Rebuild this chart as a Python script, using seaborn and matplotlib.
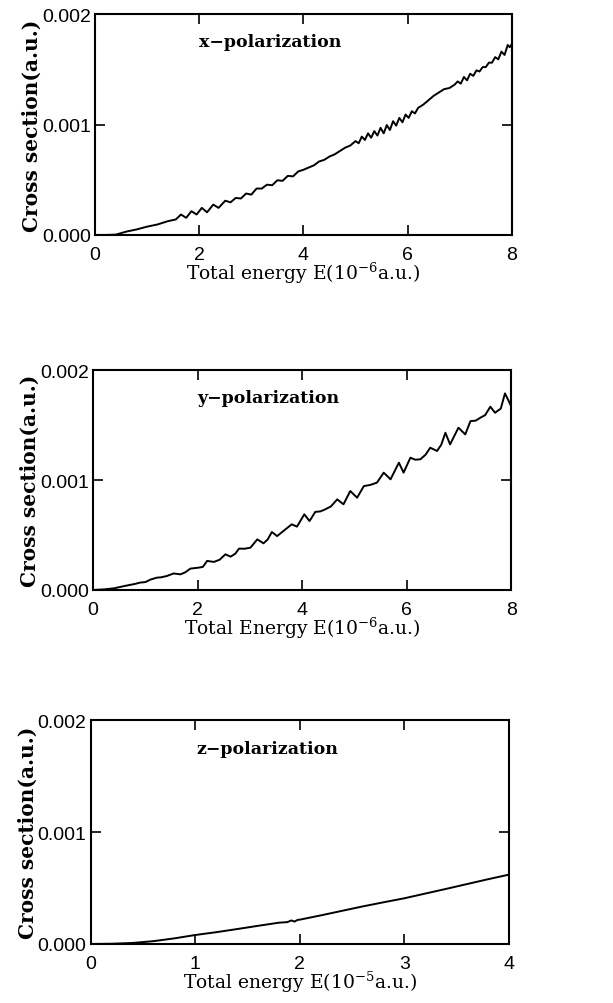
import numpy as np
import pandas as pd
import matplotlib
matplotlib.use("Agg")
import matplotlib.pyplot as plt
import seaborn as sns

# ---------------- data (cross sections in units of 1e-4 a.u.) ----------------
E_x = [0.0, 0.2, 0.4, 0.6, 0.8, 1.0, 1.2, 1.4,
       1.55, 1.65, 1.75, 1.85, 1.95, 2.05, 2.15, 2.27, 2.37,
       2.5, 2.6, 2.7, 2.8, 2.9, 3.0, 3.1, 3.2, 3.3, 3.4, 3.5, 3.6, 3.7, 3.8, 3.9,
       4.0, 4.1, 4.2, 4.3, 4.4, 4.5, 4.6, 4.7, 4.8, 4.9,
       5.0, 5.06, 5.12, 5.18, 5.24, 5.30, 5.36, 5.42, 5.48, 5.54, 5.60, 5.66,
       5.72, 5.78, 5.84, 5.90, 5.96, 6.02, 6.08, 6.14,
       6.2, 6.3, 6.4, 6.5, 6.6, 6.7, 6.8, 6.9,
       6.96, 7.02, 7.08, 7.14, 7.20, 7.26, 7.32, 7.38, 7.44, 7.50, 7.56, 7.62,
       7.68, 7.74, 7.80, 7.86, 7.92, 7.96, 8.0]
S_x = [0.0, 0.0, 0.03, 0.3, 0.5, 0.75, 0.95, 1.25,
       1.4, 1.85, 1.55, 2.15, 1.85, 2.45, 2.05, 2.75, 2.45,
       3.1, 2.95, 3.35, 3.3, 3.75, 3.65, 4.2, 4.2, 4.55, 4.5, 4.95, 4.9, 5.35, 5.3, 5.75,
       5.9, 6.1, 6.3, 6.65, 6.8, 7.1, 7.3, 7.6, 7.9, 8.1,
       8.5, 8.3, 8.9, 8.6, 9.2, 8.8, 9.4, 9.0, 9.7, 9.2, 9.95, 9.5,
       10.3, 9.9, 10.6, 10.2, 10.9, 10.6, 11.2, 11.0,
       11.5, 11.8, 12.2, 12.6, 12.9, 13.2, 13.3, 13.6,
       13.9, 13.7, 14.3, 14.0, 14.6, 14.4, 14.9, 14.8, 15.2, 15.2, 15.6, 15.6,
       16.1, 15.9, 16.6, 16.3, 17.2, 17.0, 17.3]

E_y = [0.0, 0.2, 0.4, 0.6, 0.8, 0.9, 1.0, 1.1, 1.22, 1.3, 1.41, 1.54, 1.67, 1.76, 1.86,
       2.02, 2.1, 2.18, 2.31, 2.42, 2.53, 2.63, 2.72, 2.79, 2.9, 3.01, 3.14, 3.26, 3.34,
       3.42, 3.52, 3.65, 3.80, 3.90, 4.04, 4.14, 4.25, 4.35, 4.44, 4.55, 4.67, 4.79, 4.92,
       5.05, 5.18, 5.3, 5.43, 5.56, 5.69, 5.85, 5.94, 6.07, 6.16, 6.26, 6.36, 6.45, 6.58,
       6.66, 6.74, 6.83, 6.92, 6.99, 7.12, 7.22, 7.32, 7.41, 7.50, 7.60, 7.69, 7.80, 7.88,
       7.95, 8.0]
S_y = [0.0, 0.05, 0.15, 0.36, 0.55, 0.67, 0.72, 0.95, 1.12, 1.15, 1.27, 1.5, 1.42, 1.6, 1.94,
       2.03, 2.1, 2.64, 2.55, 2.75, 3.24, 3.03, 3.3, 3.76, 3.75, 3.85, 4.6, 4.24, 4.6,
       5.27, 4.9, 5.4, 5.97, 5.76, 6.88, 6.27, 7.1, 7.15, 7.33, 7.6, 8.24, 7.79, 9.0,
       8.39, 9.45, 9.55, 9.76, 10.67, 10.06, 11.58, 10.67, 12.03, 11.85, 11.88, 12.3, 12.94, 12.64,
       13.2, 14.3, 13.24, 14.1, 14.76, 14.15, 15.36, 15.4, 15.67, 15.9, 16.67, 16.12, 16.5, 17.88,
       17.2, 16.67]

E_z = [0.0, 0.2, 0.4, 0.6, 0.8, 1.0, 1.2, 1.4, 1.6, 1.8, 1.88, 1.92, 1.95, 1.98, 2.0,
       2.2, 2.4, 2.6, 2.8, 3.0, 3.2, 3.4, 3.6, 3.8, 4.0]
S_z = [0.0, 0.02, 0.09, 0.25, 0.5, 0.8, 1.05, 1.33, 1.62, 1.9, 1.95, 2.1, 2.0, 2.15, 2.17,
       2.55, 2.95, 3.35, 3.72, 4.08, 4.5, 4.92, 5.35, 5.78, 6.19]

panel_labels = ["x\u2212polarization", "y\u2212polarization", "z\u2212polarization"]
x_labels = ["Total energy E(10$^{-6}$a.u.)",
            "Total Energy E(10$^{-6}$a.u.)",
            "Total energy E(10$^{-5}$a.u.)"]
y_label = "Cross section(a.u.)"
x_ticks = [[0, 2, 4, 6, 8], [0, 2, 4, 6, 8], [0, 1, 2, 3, 4]]
x_max = [8, 8, 4]
y_ticks = [0.000, 0.001, 0.002]
y_ticklabels = ["0.000", "0.001", "0.002"]
text_x = [2.0, 2.0, 1.01]

# ---------------- style ----------------
sns.set_theme(style="ticks")
plt.rcParams["font.family"] = ["Liberation Sans", "DejaVu Sans"]
plt.rcParams["mathtext.fontset"] = "dejavuserif"
plt.rcParams["text.color"] = "black"
plt.rcParams["axes.labelcolor"] = "black"

fig = plt.figure(figsize=(6.13, 10.04), dpi=100)
rects = [[0.155, 0.765, 0.680, 0.220],
         [0.152, 0.4114, 0.682, 0.219],
         [0.148, 0.0588, 0.682, 0.223]]

series = [(E_x, S_x), (E_y, S_y), (E_z, S_z)]

for i, (E, S) in enumerate(series):
    ax = fig.add_axes(rects[i])
    df = pd.DataFrame({"E": E, "sigma": np.array(S) * 1e-4})
    sns.lineplot(data=df, x="E", y="sigma", ax=ax, color="black",
                 linewidth=1.4, estimator=None, sort=False)
    ax.set_xlim(0, x_max[i])
    ax.set_ylim(0, 0.002)
    ax.set_xticks(x_ticks[i])
    ax.set_xticklabels([str(t) for t in x_ticks[i]])
    ax.set_yticks(y_ticks)
    ax.set_yticklabels(y_ticklabels)
    ax.tick_params(direction="in", length=7, width=1.2, top=True, right=True,
                   labelsize=14, colors="black", pad=3)
    ax.tick_params(axis="x", pad=8)
    for sp in ax.spines.values():
        sp.set_linewidth(1.5)
        sp.set_color("black")
    ax.set_xlabel(x_labels[i], family="DejaVu Serif", fontsize=13.5,
                  labelpad=-2, color="black")
    ax.set_ylabel(y_label, family="DejaVu Serif", fontweight="bold",
                  fontsize=14.5, labelpad=0, color="black")
    ax.text(text_x[i], 0.00175, panel_labels[i], family="DejaVu Serif",
            fontweight="bold", fontsize=12.5, ha="left", va="center", color="black")

fig.savefig("out.png", dpi=100)
